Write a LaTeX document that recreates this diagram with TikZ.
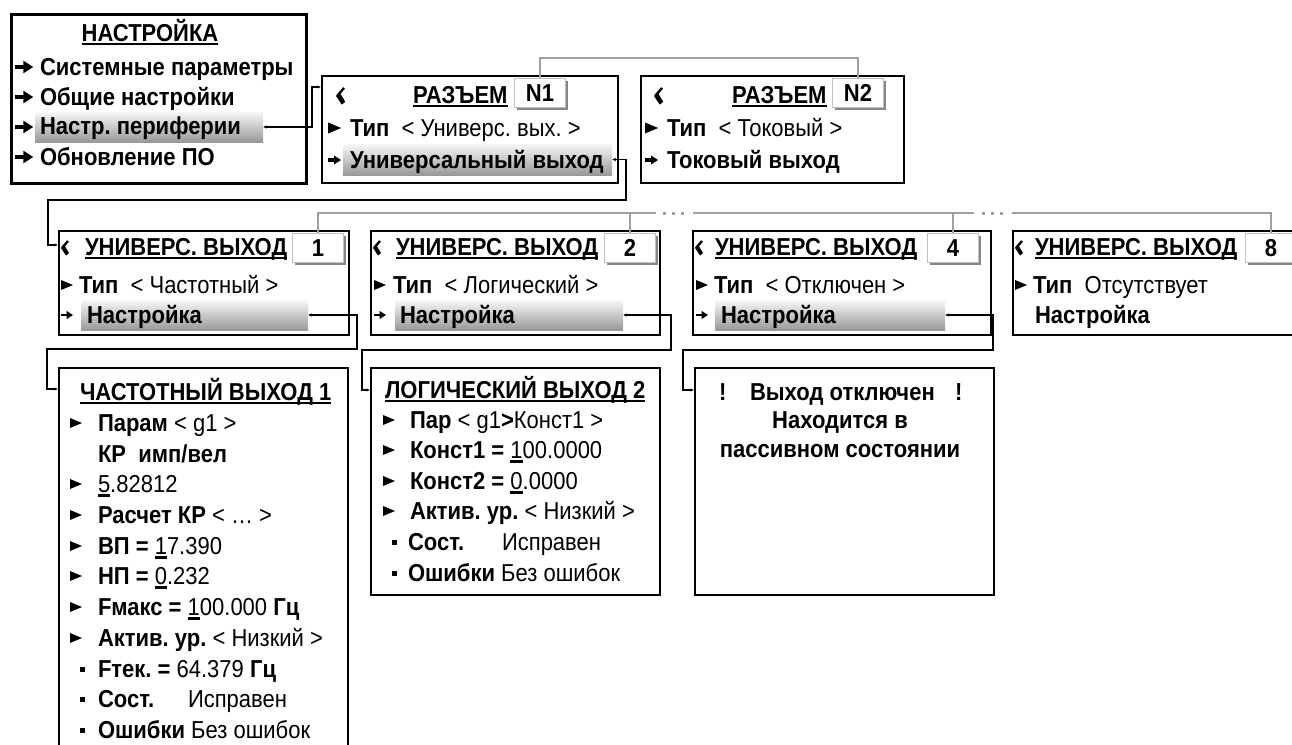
\documentclass[tikz,border=0pt]{standalone}
\usepackage{fontspec}
\setmainfont{Liberation Sans}[FakeStretch=0.898]
\usetikzlibrary{arrows.meta,shadows}
\frenchspacing
\newcommand\ult[1]{\setbox0\hbox{#1}\rlap{\rule[-3.5pt]{\wd0}{1.6pt}}\box0\relax}
\newcommand\udg[1]{\setbox0\hbox{#1}\rlap{\rule[-4.5pt]{\wd0}{2.2pt}}\box0\relax}
\tikzset{
 txt/.style={inner sep=0pt, outer sep=0pt, anchor=base west, font=\fontsize{24.5}{28}\selectfont\frenchspacing},
 ctxt/.style={txt, anchor=base},
 panel/.style={draw, line width=2pt, fill=white, inner sep=0pt, anchor=north west},
 hl/.style={inner sep=0pt, outer sep=0pt, anchor=north west, top color=gray!6, bottom color=gray!80},
 tabbox/.style={draw=gray!50, line width=1pt, fill=white, inner sep=0pt, anchor=north west, minimum width=51pt, minimum height=29pt, font=\fontsize{24.5}{28}\selectfont\bfseries, drop shadow={shadow xshift=2.5pt, shadow yshift=-2.5pt, fill=gray!95, opacity=1}},
 conn/.style={line width=1.1pt, {Latex[length=3.5pt,width=3.5pt]}-{Latex[length=3.5pt,width=3.5pt]}},
 gconn/.style={draw=gray!75, line width=1.6pt},
 gdots/.style={draw=gray!75, line width=3pt, dash pattern=on 3pt off 6pt},
 rarr/.pic={\fill (0,-1.6) rectangle (8,1.6); \fill (6,-4.5) -- (13,0) -- (6,4.5) -- cycle;},
 tri/.pic={\fill (0,-5) -- (12,0) -- (0,5) -- cycle;},
 sq/.pic={\fill (-2.5,-2.5) rectangle (2.5,2.5);},
 ret/.pic={\draw[line width=2.4pt] (7,-7) -- (1,0); \fill (0,0) -- (3.5,-2.5) -- (8,5) -- (5,7.5) -- cycle;}
}
\begin{document}
\begin{tikzpicture}[x=1pt,y=-1pt]
\path[use as bounding box, clip] (0,0) rectangle (1292,744);
\fill[white] (0,0) rectangle (1292,744);

% ---------- gray link points ----------
\coordinate (ga) at (656,213);
\coordinate (gb) at (693,213);
\coordinate (gc) at (974,213);
\coordinate (gd) at (1012,213);
\coordinate (da) at (663,213);
\coordinate (db) at (690,213);
\coordinate (dc) at (982,213);
\coordinate (dd) at (1008,213);

% ---------- box 0 ----------
\node[panel, line width=3pt, minimum width=295pt, minimum height=169pt] (b0) at (10,13) {};
\node[hl, minimum width=228pt, minimum height=30pt] (h0) at (35,112) {};
\node[ctxt] (t00) at (150,41) {\bfseries\ult{НАСТРОЙКА}};
\pic[scale=1.4] at (15,67) {rarr};
\pic[scale=1.4] at (15,97) {rarr};
\pic[scale=1.4] at (15,127) {rarr};
\pic[scale=1.4] at (15,157) {rarr};
\node[txt] (t01) at (40,75) {\bfseries Системные параметры};
\node[txt] (t02) at (40,105) {\bfseries Общие настройки};
\node[txt] (t03) at (40,134) {\bfseries Настр. периферии};
\node[txt] (t04) at (40,165) {\bfseries Обновление ПО};

% ---------- N1 ----------
\node[panel, minimum width=296pt, minimum height=107pt] (n1) at (321,75) {};
\pic[scale=1.15] at (336,96) {ret};
\node[txt] (n1t) at (413,103) {\bfseries\ult{РАЗЪЕМ}};
\node[tabbox] (tn1) at (514,78) {N1};
\pic[scale=1.1] at (328,128) {tri};
\node[txt] (n1a) at (350,136) {{\bfseries Тип}\ \ < Универс. вых. >};
\pic at (328,160) {rarr};
\node[hl, minimum width=269pt, minimum height=31pt] (hn1) at (343,144) {};
\node[txt] (n1b) at (350,168) {\bfseries Универсальный выход};

% ---------- N2 ----------
\node[panel, minimum width=263pt, minimum height=107pt] (n2) at (640,75) {};
\pic[scale=1.15] at (654,96) {ret};
\node[txt] (n2t) at (732,103) {\bfseries\ult{РАЗЪЕМ}};
\node[tabbox] (tn2) at (832,78) {N2};
\pic[scale=1.1] at (645,128) {tri};
\node[txt] (n2a) at (667,136) {{\bfseries Тип}\ \ < Токовый >};
\pic at (645,160) {rarr};
\node[txt] (n2b) at (667,168) {\bfseries Токовый выход};

% ---------- U1 ----------
\node[panel, minimum width=290pt, minimum height=104pt] (u1) at (58,230) {};
\pic at (61,248) {ret};
\node[txt] (u1t) at (85,255) {\bfseries\ult{УНИВЕРС. ВЫХОД}};
\node[tabbox] (tu1) at (292,233) {1};
\pic at (61,285) {tri};
\node[txt] (u1a) at (79,293) {{\bfseries Тип}\ \ < Частотный >};
\pic[scale=0.92] at (61,315) {rarr};
\node[hl, minimum width=227pt, minimum height=30pt] (hu1) at (81,300) {};
\node[txt] (u1b) at (87,323) {\bfseries Настройка};

% ---------- U2 ----------
\node[panel, minimum width=289pt, minimum height=104pt] (u2) at (370,230) {};
\pic at (373,248) {ret};
\node[txt] (u2t) at (396,255) {\bfseries\ult{УНИВЕРС. ВЫХОД}};
\node[tabbox] (tu2) at (604,233) {2};
\pic at (374,285) {tri};
\node[txt] (u2a) at (393,293) {{\bfseries Тип}\ \ < Логический >};
\pic[scale=0.92] at (374,315) {rarr};
\node[hl, minimum width=228pt, minimum height=30pt] (hu2) at (395,300) {};
\node[txt] (u2b) at (400,323) {\bfseries Настройка};

% ---------- U4 ----------
\node[panel, minimum width=298pt, minimum height=104pt] (u4) at (692,230) {};
\pic at (695,248) {ret};
\node[txt] (u4t) at (715,255) {\bfseries\ult{УНИВЕРС. ВЫХОД}};
\node[tabbox] (tu4) at (927,233) {4};
\pic at (696,285) {tri};
\node[txt] (u4a) at (714,293) {{\bfseries Тип}\ \ < Отключен >};
\pic[scale=0.92] at (696,315) {rarr};
\node[hl, minimum width=230pt, minimum height=30pt] (hu4) at (715,300) {};
\node[txt] (u4b) at (721,323) {\bfseries Настройка};

% ---------- U8 ----------
\node[panel, minimum width=300pt, minimum height=104pt] (u8) at (1012,230) {};
\pic at (1015,248) {ret};
\node[txt] (u8t) at (1035,255) {\bfseries\ult{УНИВЕРС. ВЫХОД}};
\node[tabbox] (tu8) at (1245,233) {8};
\pic at (1015,285) {tri};
\node[txt] (u8a) at (1033,293) {{\bfseries Тип}\ \ Отсутствует};
\node[txt] (u8b) at (1035,323) {\bfseries Настройка};

% ---------- Frequency output ----------
\node[panel, minimum width=289pt, minimum height=400pt] (f1) at (58,367) {};
\node[txt] (f1t) at (80,400) {\bfseries\ult{ЧАСТОТНЫЙ ВЫХОД 1}};
\pic at (70,423) {tri};
\node[txt] (f10) at (98,431) {{\bfseries Парам} < g1 >};
\node[txt] (f11) at (98,462) {\bfseries КР\ \ имп/вел};
\pic at (70,484) {tri};
\node[txt] (f12) at (98,492) {\udg{5}.82812};
\pic at (70,515) {tri};
\node[txt] (f13) at (98,523) {{\bfseries Расчет КР} < … >};
\pic at (70,546) {tri};
\node[txt] (f14) at (98,554) {{\bfseries ВП =} \udg{1}7.390};
\pic at (70,576) {tri};
\node[txt] (f15) at (98,584) {{\bfseries НП =} \udg{0}.232};
\pic at (70,607) {tri};
\node[txt] (f16) at (98,615) {{\bfseries Fмакс =} \udg{1}00.000 {\bfseries Гц}};
\pic at (70,638) {tri};
\node[txt] (f17) at (98,646) {{\bfseries Актив. ур.} < Низкий >};
\pic at (82.5,669) {sq};
\node[txt] (f18) at (98,677) {{\bfseries Fтек. =} 64.379 {\bfseries Гц}};
\pic at (82.5,699) {sq};
\node[txt] (f19) at (98,707) {\bfseries Сост.};
\node[txt] (f19b) at (188,707) {Исправен};
\pic at (82.5,730) {sq};
\node[txt] (f110) at (98,738) {{\bfseries Ошибки} Без ошибок};

% ---------- Logic output ----------
\node[panel, minimum width=289pt, minimum height=227pt] (l2) at (370,367) {};
\node[txt] (l2t) at (385,398) {\bfseries\ult{ЛОГИЧЕСКИЙ ВЫХОД 2}};
\pic at (383,420) {tri};
\node[txt] (l20) at (410,428) {{\bfseries Пар} < g1{\bfseries >}Конст1 >};
\pic at (383,450) {tri};
\node[txt] (l21) at (410,458) {{\bfseries Конст1 =} \udg{1}00.0000};
\pic at (383,481) {tri};
\node[txt] (l22) at (410,489) {{\bfseries Конст2 =} \udg{0}.0000};
\pic at (383,511) {tri};
\node[txt] (l23) at (410,519) {{\bfseries Актив. ур.} < Низкий >};
\pic at (394,542) {sq};
\node[txt] (l24) at (408,550) {\bfseries Сост.};
\node[txt] (l24b) at (502,550) {Исправен};
\pic at (394,573) {sq};
\node[txt] (l25) at (408,581) {{\bfseries Ошибки} Без ошибок};

% ---------- Disabled output ----------
\node[panel, minimum width=299pt, minimum height=227pt] (d4) at (694,367) {};
\node[txt] (d4a) at (719,400) {\bfseries !};
\node[txt] (d4b) at (750,400) {\bfseries Выход отключен};
\node[txt] (d4c) at (955,400) {\bfseries !};
\node[ctxt] (d4d) at (840,428) {\bfseries Находится в};
\node[ctxt] (d4e) at (840,457) {\bfseries пассивном состоянии};

% ---------- connectors ----------
\coordinate (e0) at (321,87);
\draw[conn] (h0.east) -- ++(49,0) |- (e0);
\coordinate (k1) at (48,200);
\coordinate (e1) at (58,245);
\draw[conn] (hn1.east) -- ++(14,0) |- (k1) |- (e1);
\coordinate (k2) at (47,349);
\coordinate (e2) at (58,389);
\draw[conn] (hu1.east) -- ++(49,0) |- (k2) |- (e2);
\coordinate (k3) at (362,350);
\coordinate (e3) at (370,390);
\draw[conn] (hu2.east) -- ++(48,0) |- (k3) |- (e3);
\coordinate (k4) at (683,350);
\coordinate (e4) at (694,390);
\draw[conn] (hu4.east) -- ++(48,0) |- (k4) |- (e4);

\draw[gconn] (tn1.north) -- ++(0,-20) -| (tn2.north);
\draw[gconn] (tu1.north) |- (ga);
\draw[gdots] (da) -- (db);
\draw[gconn] (gb) -- (gc);
\draw[gdots] (dc) -- (dd);
\draw[gconn] (gd) -| (tu8.north);
\draw[gconn] (tu2.north) -- (tu2.north |- ga);
\draw[gconn] (tu4.north) -- (tu4.north |- ga);
\end{tikzpicture}
\end{document}
